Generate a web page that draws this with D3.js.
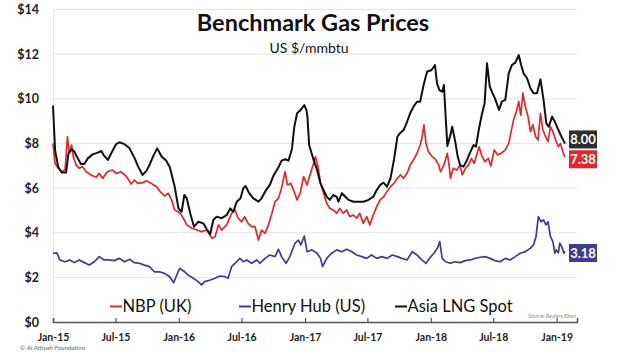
<!DOCTYPE html>
<html><head><meta charset="utf-8">
<script src="https://cdn.jsdelivr.net/npm/d3@7"></script>
<style>
html,body{margin:0;padding:0;background:#fff;}
svg{display:block;}
</style></head>
<body>
<svg id="chart" width="620" height="355"></svg>
<script>
const title = "Benchmark Gas Prices";
const subtitle = "US $/mmbtu";
const yTicks = [0, 2, 4, 6, 8, 10, 12, 14];
const xTickDates = ["2015-01-01","2015-07-01","2016-01-01","2016-07-01","2017-01-01","2017-07-01","2018-01-01","2018-07-01","2019-01-01"];
const xTickLabels = ["Jan-15","Jul-15","Jan-16","Jul-16","Jan-17","Jul-17","Jan-18","Jul-18","Jan-19"];
const seriesNames = ["NBP (UK)", "Henry Hub (US)", "Asia LNG Spot"];
const endLabels = ["7.38", "3.18", "8.00"];

const asiaLng = [
["2015-01-01",9.7],["2015-01-07",7.7],["2015-01-16",6.96],["2015-01-26",6.7],["2015-02-08",6.7],["2015-02-15",7.56],
["2015-02-25",7.74],["2015-03-04",7.63],["2015-03-14",7.33],["2015-03-23",7.08],["2015-04-02",7.08],["2015-04-12",7.33],
["2015-04-26",7.51],["2015-05-11",7.59],["2015-05-21",7.66],["2015-05-28",7.48],["2015-06-09",7.26],["2015-06-19",7.56],
["2015-07-03",7.97],["2015-07-13",8.05],["2015-07-27",7.97],["2015-08-11",7.78],["2015-08-26",7.33],["2015-09-05",6.96],
["2015-09-18",6.59],["2015-09-29",6.77],["2015-10-08",7.03],["2015-10-18",7.41],["2015-10-30",7.78],["2015-11-12",7.41],
["2015-11-25",7.23],["2015-12-06",6.93],["2015-12-20",6.06],["2015-12-31",5.09],["2016-01-09",4.94],["2016-01-17",5.69],
["2016-01-24",5.54],["2016-02-03",4.87],["2016-02-14",4.27],["2016-02-27",4.49],["2016-03-12",4.42],["2016-03-22",4.15],
["2016-04-01",3.94],["2016-04-10",4.57],["2016-04-20",4.72],["2016-05-04",4.65],["2016-05-19",4.79],["2016-05-29",5.09],
["2016-06-07",4.94],["2016-06-17",5.39],["2016-06-28",5.54],["2016-07-06",5.99],["2016-07-13",6.09],["2016-07-23",5.77],
["2016-08-04",5.54],["2016-08-19",5.39],["2016-08-28",5.54],["2016-09-10",5.91],["2016-09-21",6.14],["2016-10-01",6.54],
["2016-10-16",6.93],["2016-10-25",7.23],["2016-11-05",7.29],["2016-11-14",7.23],["2016-11-24",7.74],["2016-12-01",8.75],
["2016-12-09",9.35],["2016-12-18",9.47],["2016-12-30",9.72],["2017-01-05",9.5],["2017-01-08",9.2],["2017-01-13",7.93],
["2017-01-26",7.26],["2017-02-05",6.81],["2017-02-15",6.21],["2017-02-24",5.91],["2017-03-05",5.61],["2017-03-14",5.47],
["2017-03-24",5.69],["2017-04-03",5.61],["2017-04-08",5.39],["2017-04-18",5.77],["2017-04-28",5.61],["2017-05-07",5.47],
["2017-05-22",5.39],["2017-06-05",5.39],["2017-06-20",5.39],["2017-07-04",5.47],["2017-07-18",5.61],["2017-07-28",5.91],
["2017-08-07",6.14],["2017-08-17",6.24],["2017-08-27",6.06],["2017-09-06",6.44],["2017-09-16",7.26],["2017-09-26",8.3],
["2017-10-05",8.48],["2017-10-14",8.6],["2017-10-24",8.97],["2017-11-02",9.35],["2017-11-12",9.65],["2017-11-22",9.87],
["2017-12-01",9.87],["2017-12-11",10.62],["2017-12-21",11.21],["2018-01-03",11.29],["2018-01-13",11.51],["2018-01-19",10.69],
["2018-01-26",10.39],["2018-02-03",10.32],["2018-02-08",10.62],["2018-02-13",9.2],["2018-02-18",7.88],["2018-02-28",8.45],
["2018-03-04",8.75],["2018-03-12",8.15],["2018-03-20",7.41],["2018-03-27",7.03],["2018-04-06",6.96],["2018-04-16",7.26],
["2018-04-25",7.6],["2018-05-05",7.93],["2018-05-12",7.85],["2018-05-20",8.6],["2018-05-29",9.3],["2018-06-06",9.8],
["2018-06-13",11.59],["2018-06-21",10.54],["2018-06-29",10.25],["2018-07-06",10.02],["2018-07-18",9.5],["2018-07-26",9.87],
["2018-08-05",9.95],["2018-08-15",11.14],["2018-08-24",11.51],["2018-09-03",11.62],["2018-09-13",11.96],["2018-09-20",11.51],
["2018-09-27",11.14],["2018-10-07",10.92],["2018-10-17",10.47],["2018-10-26",10.25],["2018-11-05",10.25],["2018-11-15",10.87],
["2018-11-24",9.95],["2018-12-02",8.9],["2018-12-09",8.75],["2018-12-19",9.2],["2018-12-27",8.97],["2019-01-06",8.6],
["2019-01-15",8.3],["2019-01-25",8.0]
];

const nbp = [
["2015-01-01",8.0],["2015-01-07",7.11],["2015-01-16",6.89],["2015-01-26",6.73],["2015-02-05",6.81],["2015-02-12",8.3],
["2015-02-17",7.56],["2015-02-24",7.93],["2015-03-01",7.41],["2015-03-09",7.03],["2015-03-18",6.89],["2015-03-28",6.96],
["2015-04-07",6.73],["2015-04-21",6.59],["2015-05-06",6.48],["2015-05-15",6.66],["2015-05-25",6.44],["2015-06-08",6.73],
["2015-06-23",6.81],["2015-07-03",6.66],["2015-07-17",6.73],["2015-08-01",6.54],["2015-08-16",6.18],["2015-08-25",6.36],
["2015-09-04",6.21],["2015-09-19",6.24],["2015-09-29",6.33],["2015-10-13",6.21],["2015-10-28",6.06],["2015-11-12",5.77],
["2015-11-21",5.65],["2015-12-01",5.77],["2015-12-11",5.47],["2015-12-20",5.02],["2016-01-04",4.9],["2016-01-14",4.65],
["2016-01-24",4.35],["2016-02-08",4.2],["2016-02-23",4.12],["2016-03-07",4.05],["2016-03-22",4.12],["2016-04-06",3.75],
["2016-04-15",3.82],["2016-04-25",4.35],["2016-05-04",4.12],["2016-05-19",4.35],["2016-06-02",4.87],["2016-06-12",5.02],
["2016-06-21",4.65],["2016-07-01",4.49],["2016-07-10",4.72],["2016-07-20",4.42],["2016-07-30",4.27],["2016-08-09",4.27],
["2016-08-19",3.67],["2016-08-28",4.12],["2016-09-07",3.97],["2016-09-17",4.35],["2016-09-27",4.87],["2016-10-06",5.39],
["2016-10-16",5.54],["2016-10-25",5.99],["2016-11-04",6.73],["2016-11-11",6.14],["2016-11-21",6.21],["2016-11-29",5.91],
["2016-12-09",5.47],["2016-12-18",5.77],["2016-12-28",6.51],["2017-01-07",6.14],["2017-01-17",6.66],["2017-01-26",7.11],
["2017-01-31",7.41],["2017-02-08",6.96],["2017-02-15",6.21],["2017-02-24",5.77],["2017-03-05",5.32],["2017-03-14",5.09],
["2017-03-24",5.02],["2017-04-03",4.87],["2017-04-12",5.09],["2017-04-22",4.87],["2017-05-02",5.02],["2017-05-11",4.72],
["2017-05-21",4.79],["2017-05-31",4.65],["2017-06-09",4.87],["2017-06-19",4.42],["2017-06-29",4.72],["2017-07-08",4.35],
["2017-07-18",4.79],["2017-07-28",5.17],["2017-08-07",5.47],["2017-08-17",5.61],["2017-08-27",5.84],["2017-09-06",6.06],
["2017-09-16",6.21],["2017-09-26",6.44],["2017-10-05",6.59],["2017-10-14",6.44],["2017-10-24",6.66],["2017-11-02",7.03],
["2017-11-12",7.26],["2017-11-22",7.56],["2017-12-01",7.93],["2017-12-06",8.23],["2017-12-12",8.83],["2017-12-18",8.0],
["2017-12-25",7.63],["2018-01-05",7.41],["2018-01-14",7.3],["2018-01-24",7.03],["2018-01-29",6.73],["2018-02-08",7.03],
["2018-02-18",7.56],["2018-02-24",6.89],["2018-02-27",6.44],["2018-03-07",6.89],["2018-03-17",6.81],["2018-03-27",7.03],
["2018-04-02",6.59],["2018-04-12",6.89],["2018-04-20",7.03],["2018-04-29",7.33],["2018-05-07",7.11],["2018-05-14",7.48],
["2018-05-21",7.85],["2018-05-28",7.48],["2018-06-07",7.18],["2018-06-17",7.33],["2018-06-24",6.99],["2018-07-04",7.71],
["2018-07-14",7.48],["2018-07-24",7.56],["2018-08-05",7.71],["2018-08-15",8.0],["2018-08-22",8.53],["2018-08-29",9.05],
["2018-09-06",9.42],["2018-09-13",9.87],["2018-09-19",9.27],["2018-09-25",10.25],["2018-10-02",9.65],["2018-10-10",9.2],
["2018-10-17",8.53],["2018-10-24",8.83],["2018-11-01",8.3],["2018-11-08",8.15],["2018-11-15",9.35],["2018-11-22",8.6],
["2018-11-30",8.3],["2018-12-07",8.08],["2018-12-14",8.75],["2018-12-21",8.53],["2018-12-29",8.15],["2019-01-06",7.85],
["2019-01-12",8.0],["2019-01-19",7.63],["2019-01-25",7.38]
];

const henryHub = [
["2015-01-01",3.08],["2015-01-12",3.1],["2015-01-21",2.78],["2015-02-05",2.7],["2015-02-19",2.78],["2015-03-04",2.66],
["2015-03-18",2.78],["2015-04-02",2.66],["2015-04-16",2.55],["2015-05-01",2.7],["2015-05-15",2.93],["2015-05-29",2.78],
["2015-06-13",2.78],["2015-06-27",2.75],["2015-07-13",2.85],["2015-07-27",2.7],["2015-08-11",2.81],["2015-08-25",2.66],
["2015-09-09",2.63],["2015-09-23",2.55],["2015-10-08",2.48],["2015-10-22",2.25],["2015-11-06",2.25],["2015-11-20",2.18],
["2015-12-06",2.03],["2015-12-17",1.76],["2015-12-30",2.25],["2016-01-04",2.4],["2016-01-18",2.25],["2016-01-28",2.1],
["2016-02-12",1.96],["2016-02-26",1.81],["2016-03-07",1.66],["2016-03-16",1.81],["2016-04-01",1.88],["2016-04-15",1.96],
["2016-04-29",2.06],["2016-05-14",2.03],["2016-05-23",1.96],["2016-06-02",2.48],["2016-06-17",2.7],["2016-06-26",2.85],
["2016-07-06",2.7],["2016-07-16",2.78],["2016-07-30",2.63],["2016-08-14",2.78],["2016-08-23",2.63],["2016-09-07",2.85],
["2016-09-21",3.0],["2016-10-06",2.93],["2016-10-16",3.26],["2016-10-25",2.93],["2016-11-07",2.63],["2016-11-18",2.93],
["2016-12-03",3.53],["2016-12-13",3.67],["2016-12-20",3.45],["2016-12-30",3.85],["2017-01-07",3.15],["2017-01-21",3.23],
["2017-02-05",3.08],["2017-02-15",2.85],["2017-02-21",2.48],["2017-03-05",2.85],["2017-03-19",3.08],["2017-04-03",3.23],
["2017-04-18",3.15],["2017-05-02",3.26],["2017-05-17",3.15],["2017-05-31",3.0],["2017-06-15",2.93],["2017-06-29",2.85],
["2017-07-13",3.0],["2017-07-28",2.85],["2017-08-12",2.93],["2017-08-27",2.85],["2017-09-11",3.0],["2017-09-26",2.93],
["2017-10-09",2.85],["2017-10-24",2.78],["2017-11-08",3.15],["2017-11-22",3.0],["2017-12-06",2.78],["2017-12-18",2.63],
["2018-01-01",2.93],["2018-01-10",3.08],["2018-01-20",3.3],["2018-01-27",3.6],["2018-02-03",2.85],["2018-02-13",2.7],
["2018-02-27",2.63],["2018-03-12",2.7],["2018-03-27",2.66],["2018-04-11",2.75],["2018-04-25",2.78],["2018-05-10",2.85],
["2018-05-24",2.9],["2018-06-08",2.93],["2018-06-22",2.85],["2018-07-06",2.75],["2018-07-21",2.7],["2018-08-05",2.85],
["2018-08-19",2.78],["2018-09-03",2.93],["2018-09-17",3.08],["2018-10-02",3.15],["2018-10-16",3.3],["2018-10-26",3.45],
["2018-11-02",3.82],["2018-11-09",4.72],["2018-11-17",4.49],["2018-11-24",4.57],["2018-12-01",4.35],["2018-12-07",4.49],
["2018-12-14",3.82],["2018-12-21",3.6],["2018-12-27",3.08],["2018-12-31",3.23],["2019-01-06",3.1],["2019-01-10",3.53],
["2019-01-15",3.4],["2019-01-22",3.08],["2019-01-25",3.18]
];

const colors = {nbp:"#e5262b", hh:"#3f3b92", lng:"#111111"};

const svg = d3.select("#chart");
const parse = d3.timeParse("%Y-%m-%d");
const x = d3.scaleTime().domain([parse("2015-01-01"), parse("2019-03-01")]).range([53, 577]);
const y = d3.scaleLinear().domain([0, 14]).range([322, 9.5]);
const font = "Lato, 'Open Sans', sans-serif";

// gridlines
svg.append("g").selectAll("line").data(yTicks.filter(d => d > 0)).join("line")
  .attr("x1", 53).attr("x2", 577).attr("y1", d => y(d)).attr("y2", d => y(d))
  .attr("stroke", "#e4e4e4").attr("stroke-width", 1);
svg.append("line").attr("x1", 53.5).attr("x2", 53.5).attr("y1", y(14)).attr("y2", y(0))
  .attr("stroke", "#e4e4e4");

// y labels
svg.append("g").selectAll("text").data(yTicks).join("text")
  .attr("x", 39).attr("y", d => y(d)).attr("dy", "0.36em")
  .attr("text-anchor", "end")
  .style("font-family", font).style("font-weight", "bold").style("font-size", "12.5px")
  .attr("fill", "#222")
  .text(d => "$" + d);

// x axis
const xAxis = d3.axisBottom(x).tickValues(xTickDates.map(parse)).tickSize(-4)
  .tickFormat((d, i) => xTickLabels[i]);
const gx = svg.append("g").attr("transform", "translate(0,322)").call(xAxis);
gx.select(".domain").attr("stroke", "#555").attr("stroke-width", 1.5);
gx.selectAll(".tick line").attr("stroke", "#555").attr("stroke-width", 1.2);
gx.selectAll(".tick text").attr("y", 12)
  .style("font-family", font).style("font-weight", "bold").style("font-size", "10.5px")
  .attr("fill", "#222");

// lines
const line = d3.line().x(d => x(parse(d[0]))).y(d => y(d[1])).curve(d3.curveLinear);
svg.append("path").datum(henryHub).attr("d", line).attr("fill", "none")
  .attr("stroke", colors.hh).attr("stroke-width", 1.7).attr("stroke-linejoin", "round");
svg.append("path").datum(nbp).attr("d", line).attr("fill", "none")
  .attr("stroke", colors.nbp).attr("stroke-width", 1.7).attr("stroke-linejoin", "round");
svg.append("path").datum(asiaLng).attr("d", line).attr("fill", "none")
  .attr("stroke", colors.lng).attr("stroke-width", 2).attr("stroke-linejoin", "round");

// title
svg.append("text").attr("x", 313).attr("y", 31).attr("text-anchor", "middle")
  .style("font-family", font).style("font-weight", "bold").style("font-size", "23.5px")
  .attr("fill", "#111").text(title);
svg.append("text").attr("x", 309).attr("y", 53).attr("text-anchor", "middle")
  .style("font-family", font).style("font-size", "14px")
  .attr("fill", "#111").text(subtitle);

// end labels
const endInfo = [
  {v: endLabels[0], last: nbp[nbp.length - 1][1], c: colors.nbp, nudge: 2},
  {v: endLabels[1], last: henryHub[henryHub.length - 1][1], c: colors.hh, nudge: 2},
  {v: endLabels[2], last: asiaLng[asiaLng.length - 1][1], c: "#2e2e2e", nudge: -4}
];
const eg = svg.append("g").selectAll("g").data(endInfo).join("g")
  .attr("transform", d => `translate(569,${y(d.last) + d.nudge})`);
eg.append("rect").attr("x", 0).attr("y", -9).attr("width", 28).attr("height", 18).attr("fill", d => d.c);
eg.append("text").attr("x", 14).attr("y", 0).attr("dy", "0.36em").attr("text-anchor", "middle")
  .style("font-family", font).style("font-weight", "bold").style("font-size", "13px")
  .attr("fill", "#fff").text(d => d.v);

// legend
const legendItems = [
  {name: seriesNames[0], c: colors.nbp, x: 110},
  {name: seriesNames[1], c: colors.hh, x: 239},
  {name: seriesNames[2], c: colors.lng, x: 395}
];
const lgg = svg.append("g").selectAll("g").data(legendItems).join("g")
  .attr("transform", d => `translate(${d.x},312)`);
lgg.append("line").attr("x1", 0).attr("x2", 12).attr("y1", -5.5).attr("y2", -5.5)
  .attr("stroke", d => d.c).attr("stroke-width", 2);
lgg.append("text").attr("x", 12.5).attr("y", 0)
  .style("font-family", font).style("font-size", "16.5px").attr("fill", "#111")
  .text(d => d.name);

// source & copyright
svg.append("text").attr("x", 576).attr("y", 318).attr("text-anchor", "end")
  .style("font-family", font).style("font-size", "5px").attr("fill", "#888")
  .text("Source: Reuters Eikon");
svg.append("text").attr("x", 20).attr("y", 350)
  .style("font-family", font).style("font-style", "italic").style("font-size", "6.5px").attr("fill", "#666")
  .text("© Al Attiyah Foundation");
</script>
</body></html>
